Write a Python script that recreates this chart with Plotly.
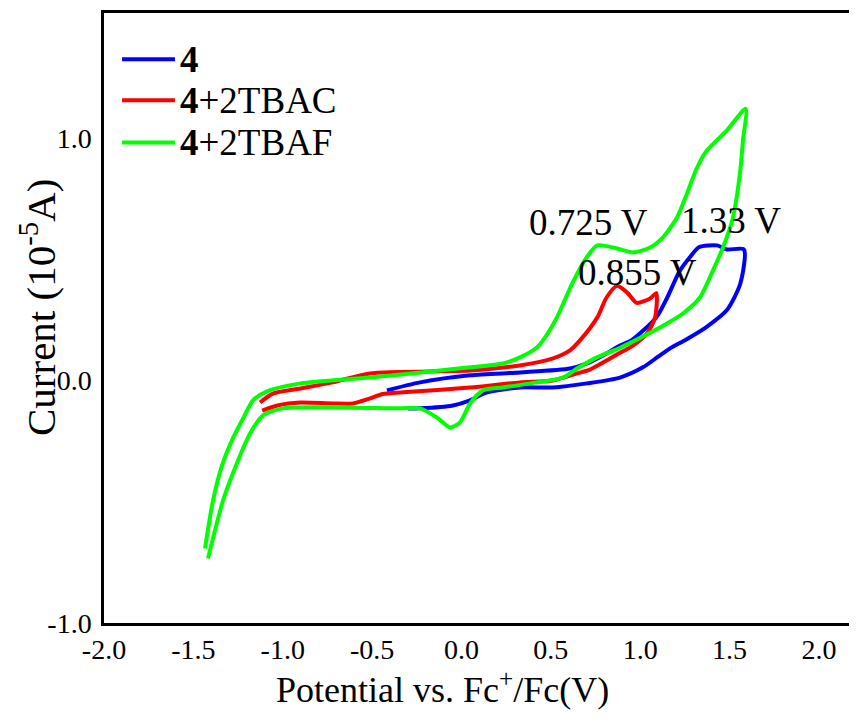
import plotly.graph_objects as go

# cyclic voltammograms, potential (V vs Fc+/Fc) and current (10^-5 A)
blue_x = [-0.417, -0.232, 0.048, 0.327, 0.607, 0.702, 0.792, 0.887, 0.95, 1.09, 1.15, 1.22, 1.28, 1.33, 1.43, 1.485, 1.58,
          1.56, 1.485, 1.37, 1.26, 1.166, 1.100, 1.015, 0.887, 0.702, 0.512, 0.327, 0.143, 0.048, -0.048, -0.232, -0.30]
blue_y = [-0.041, -0.008, 0.021, 0.033, 0.049, 0.070, 0.103, 0.144, 0.165, 0.26, 0.34, 0.45, 0.51, 0.55, 0.557, 0.54, 0.54,
          0.40, 0.29, 0.22, 0.17, 0.132, 0.098, 0.054, 0.012, -0.012, -0.029, -0.029, -0.049, -0.082, -0.103, -0.115, -0.116]

red_x = [-1.127, -1.055, -0.90, -0.72, -0.512, 0.048, 0.327, 0.512, 0.607, 0.663, 0.76, 0.81, 0.87, 0.93, 0.98, 1.055, 1.09,
         1.083, 1.038, 0.959, 0.870, 0.792, 0.719, 0.646, 0.512, 0.327, 0.048, -0.327, -0.44, -0.512, -0.607, -0.72, -0.90,
         -1.03, -1.115]
red_y = [-0.091, -0.054, -0.033, -0.008, 0.029, 0.041, 0.062, 0.091, 0.124, 0.165, 0.26, 0.34, 0.39, 0.36, 0.32, 0.338, 0.36,
         0.26, 0.194, 0.144, 0.107, 0.074, 0.045, 0.029, 0.0, -0.008, -0.029, -0.049, -0.056, -0.074, -0.095, -0.095, -0.091,
         -0.103, -0.124]

green_x = [-1.435, -1.39, -1.340, -1.284, -1.222, -1.166, -1.088, -0.90, -0.512, 0.048, 0.232, 0.327, 0.422, 0.456, 0.534,
           0.62, 0.70, 0.76, 0.85, 0.96, 1.055, 1.127, 1.206, 1.262, 1.318, 1.373, 1.485, 1.59,
           1.575, 1.558, 1.519, 1.463, 1.407, 1.334, 1.239, 1.15, 1.038, 0.887, 0.758, 0.646, 0.568, 0.422, 0.232, 0.120,
           0.048, -0.008, -0.064, -0.137, -0.232, -0.344, -0.72, -1.0, -1.11, -1.183, -1.25, -1.334, -1.418]
green_y = [-0.693, -0.495, -0.351, -0.247, -0.157, -0.082, -0.045, -0.012, 0.012, 0.054, 0.070, 0.095, 0.136, 0.165, 0.26,
           0.40, 0.507, 0.557, 0.548, 0.528, 0.548, 0.59, 0.672, 0.771, 0.878, 0.948, 1.031, 1.12,
           0.99, 0.854, 0.672, 0.548, 0.454, 0.342, 0.276, 0.235, 0.19, 0.135, 0.095, 0.049, 0.012, -0.008, -0.029, -0.041,
           -0.095, -0.173, -0.194, -0.153, -0.115, -0.115, -0.111, -0.115, -0.144, -0.219, -0.33, -0.495, -0.734]

series_names = ["<b>4</b>", "<b>4</b>+2TBAC", "<b>4</b>+2TBAF"]
series_colors = ["#0000FF", "#FF0000", "#00FF00"]

x_ticks = [-2.0, -1.5, -1.0, -0.5, 0.0, 0.5, 1.0, 1.5, 2.0]
x_labels = ["-2.0", "-1.5", "-1.0", "-0.5", "0.0", "0.5", "1.0", "1.5", "2.0"]
y_ticks = [-1.0, 0.0, 1.0]
y_labels = ["-1.0", "0.0", "1.0"]

peak_x = [0.713, 1.508, 0.982]
peak_y = [0.652, 0.66, 0.445]
peak_text = ["0.725 V", "1.33 V", "0.855 V"]

font = "Liberation Serif, Times New Roman, serif"

fig = go.Figure()

for xs, ys, name, color in zip([blue_x, red_x, green_x], [blue_y, red_y, green_y], series_names, series_colors):
    fig.add_trace(
        go.Scatter(
            x=xs, y=ys, name=name, mode="lines", showlegend=False,
            line=dict(color=color, width=4, shape="spline", smoothing=0.7),
        )
    )

# legend drawn by hand so the line length and row spacing match
leg_y = [1.324, 1.155, 0.981]
for name, color, ly in zip(series_names, series_colors, leg_y):
    fig.add_shape(type="line", x0=-1.899, x1=-1.603, y0=ly, y1=ly,
                  line=dict(color=color, width=4))
    fig.add_annotation(x=-1.585, y=ly, text=name, showarrow=False, xanchor="left", yanchor="middle",
                       font=dict(size=37, color="black", family=font))

for px, py, t in zip(peak_x, peak_y, peak_text):
    fig.add_annotation(x=px, y=py, text=t, showarrow=False,
                       font=dict(size=37, color="black", family=font))

# axis titles
fig.add_annotation(x=0.455, y=-0.105, xref="paper", yref="paper", showarrow=False,
                   xanchor="center", yanchor="middle",
                   text="Potential vs. Fc<sup>+</sup>/Fc(V)", font=dict(size=36, family=font, color="black"))
fig.add_annotation(x=-0.0886, y=0.518, xref="paper", yref="paper", showarrow=False, textangle=-90,
                   xanchor="center", yanchor="middle",
                   text="Current (10<sup>-5</sup>A)", font=dict(size=41, family=font, color="black"))

# page body has an 8px margin, so the figure is sized to fit the window inside it
fig.update_layout(
    width=841, height=702,
    margin=dict(l=96, r=0, t=5, b=87),
    paper_bgcolor="white", plot_bgcolor="white",
    font=dict(family=font, color="black"),
    showlegend=False,
)

fig.update_xaxes(range=[-2.0, 2.168], tickvals=x_ticks, ticktext=x_labels, ticks="",
                 showline=True, linecolor="black", linewidth=2.5, mirror=True,
                 showgrid=False, zeroline=False, tickfont=dict(size=28, family=font, color="black"))
fig.update_yaxes(range=[-1.0, 1.515], tickvals=y_ticks, ticktext=y_labels, ticks="",
                 showline=True, linecolor="black", linewidth=2.5, mirror=False,
                 showgrid=False, zeroline=False, ticklabelstandoff=4,
                 tickfont=dict(size=28, family=font, color="black"))

fig.write_html("out.html")
